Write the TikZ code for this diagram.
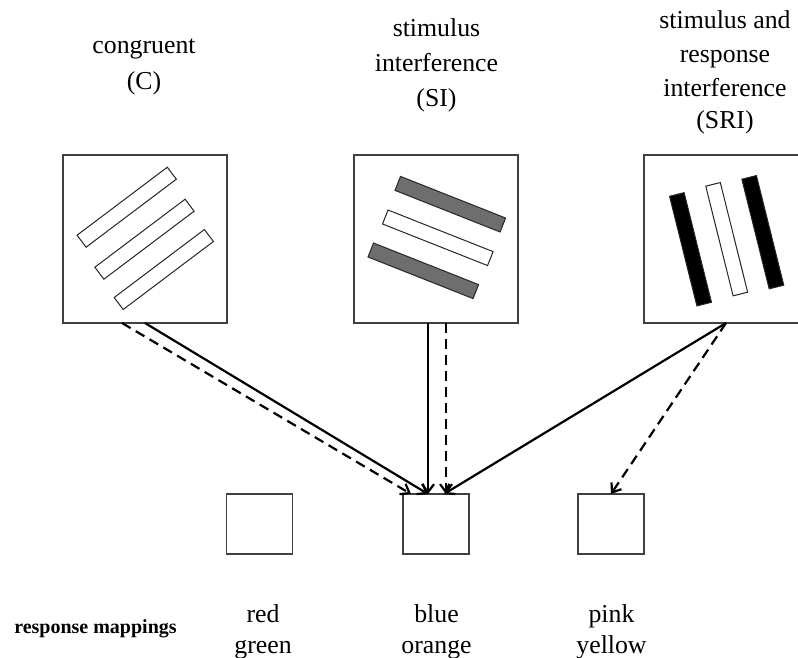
\documentclass[tikz,border=0pt]{standalone}
\usepackage{fontspec}
\setmainfont{Liberation Serif}
\usetikzlibrary{arrows.meta}
\begin{document}
\begin{tikzpicture}[x=1pt,y=-1pt,
  frame/.style={draw=black!75, line width=1.4pt, fill=white, inner sep=0pt, outer sep=0pt},
  bigbox/.style={frame, minimum width=164pt, minimum height=168pt},
  smallbox/.style={frame, minimum width=66pt, minimum height=60pt},
  bar/.style={draw=black!85, line width=1pt, inner sep=0pt, outer sep=0pt, minimum width=113pt, minimum height=15pt},
  lbl/.style={anchor=base, inner sep=0pt, font=\fontsize{25.8}{30}\selectfont},
  conn/.style={line width=2.2pt, -{Straight Barb[length=8pt,width=12pt,line width=2.2pt]}},
  dconn/.style={conn, dash pattern=on 10pt off 6pt}]
\useasboundingbox (0,0) rectangle (798,658);

% top labels
\node[lbl] (tc1) at (144,54) {congruent};
\node[lbl] (tc2) at (144,90) {(C)};
\node[lbl] (ts1) at (436.5,37) {stimulus};
\node[lbl] (ts2) at (436.5,72) {interference};
\node[lbl] (ts3) at (436.5,106.5) {(SI)};
\node[lbl] (tr1) at (725,29) {stimulus and};
\node[lbl] (tr2) at (725,63) {response};
\node[lbl] (tr3) at (725,96.5) {interference};
\node[lbl] (tr4) at (725,128.5) {(SRI)};

% stimulus boxes
\node[bigbox] (C) at (145,239) {};
\node[bigbox] (SI) at (436,239) {};
\node[bigbox] (SRI) at (726,239) {};

% bars C
\node[bar, fill=white, rotate=37] (c1) at (126.7,207.2) {};
\node[bar, fill=white, rotate=37] (c2) at (144.5,239.2) {};
\node[bar, fill=white, rotate=37] (c3) at (163.8,269.5) {};
% bars SI
\node[bar, fill=black!57, rotate=-21.6] (s1) at (450.3,204.2) {};
\node[bar, fill=white, rotate=-21.6] (s2) at (437.8,237.8) {};
\node[bar, fill=black!57, rotate=-21.6] (s3) at (423.3,270.8) {};
% bars SRI
\node[bar, fill=black, rotate=-76] (r1) at (690.5,249.3) {};
\node[bar, fill=white, rotate=-76] (r2) at (726.7,239.2) {};
\node[bar, fill=black, rotate=-76] (r3) at (762.8,232.2) {};

% response boxes
\node[smallbox] (red) at (259.5,524) {};
\node[smallbox] (blue) at (436,524) {};
\node[smallbox] (pink) at (611,524) {};

% connectors
\draw[dconn] ([xshift=-23pt]C.south) -- ([xshift=-25pt]blue.north);
\draw[conn] (C.south) -- ([xshift=-8pt]blue.north);
\draw[conn] ([xshift=-8pt]SI.south) -- ([xshift=-8pt]blue.north);
\draw[dconn] ([xshift=10pt]SI.south) -- ([xshift=10pt]blue.north);
\draw[conn] (SRI.south) -- ([xshift=8pt]blue.north);
\draw[dconn] (SRI.south) -- (pink.north);

% bottom labels
\node[anchor=base, inner sep=0pt, font=\bfseries\fontsize{20}{24}\selectfont] (rm) at (95.5,633) {response mappings};
\node[lbl] (b1) at (263,622) {red};
\node[lbl] (b2) at (263,653) {green};
\node[lbl] (b3) at (436.5,622) {blue};
\node[lbl] (b4) at (436.5,653) {orange};
\node[lbl] (b5) at (611.5,622) {pink};
\node[lbl] (b6) at (611.5,653) {yellow};
\end{tikzpicture}
\end{document}
